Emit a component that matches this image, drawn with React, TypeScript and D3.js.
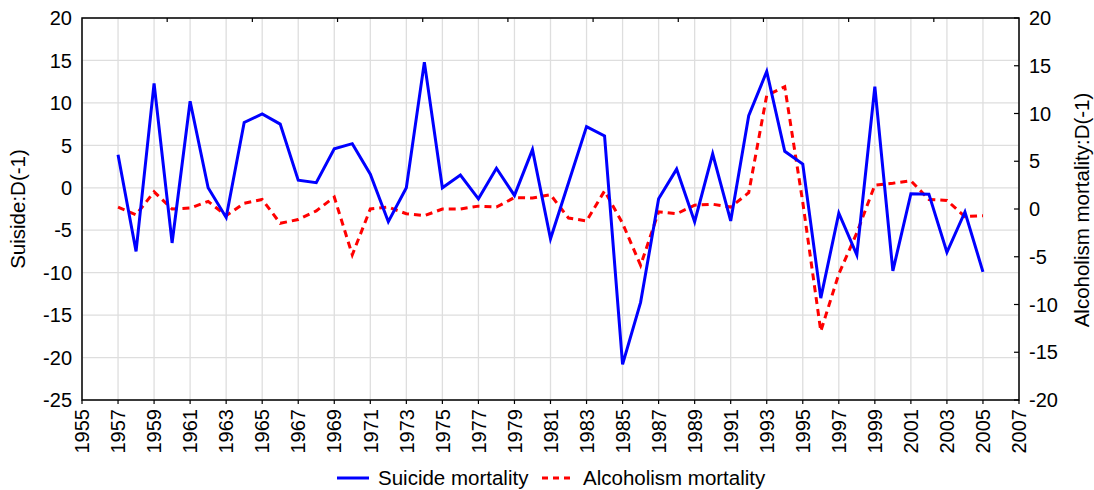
import React from 'react';
import * as d3 from 'd3';

const years = d3.range(1957, 2006);
const suicide = [
  3.9, -7.5, 12.3, -6.5, 10.2, 0.0, -3.5, 7.7, 8.7, 7.5,
  0.9, 0.6, 4.6, 5.2, 1.6, -4.0, 0.0, 14.8, 0.0, 1.5,
  -1.3, 2.3, -0.9, 4.5, -6.0, 0.6, 7.2, 6.1, -20.8, -13.5,
  -1.3, 2.2, -4.0, 4.0, -3.9, 8.5, 13.7, 4.3, 2.8, -13.0,
  -3.0, -7.9, 11.9, -9.8, -0.7, -0.75, -7.6, -2.85, -9.9,
];
const alcohol = [
  0.2, -0.6, 1.8, 0.0, 0.1, 0.8, -0.7, 0.6, 1.0, -1.5,
  -1.1, -0.2, 1.25, -4.8, 0.0, 0.2, -0.5, -0.7, 0.0, 0.0,
  0.3, 0.2, 1.2, 1.15, 1.5, -0.95, -1.25, 1.9, -1.5, -5.9,
  -0.3, -0.5, 0.4, 0.5, 0.2, 1.7, 11.9, 12.8, 0.7, -12.8,
  -6.8, -2.5, 2.5, 2.7, 2.95, 1.0, 0.9, -0.8, -0.7,
];
const xTicks = d3.range(1955, 2008, 2);
const leftTicks = d3.range(-25, 21, 5);
const rightTicks = d3.range(-20, 21, 5);
const topTicks = d3.range(1, 11);

const W = 1094;
const H = 490;
const font = 'Arial, "Liberation Sans", sans-serif';

export default function App() {
  const x = d3.scaleLinear().domain([1955, 2007]).range([82, 1019]);
  const yL = d3.scaleLinear().domain([-25, 20]).range([400, 18]);
  const yR = d3.scaleLinear().domain([-20, 20]).range([400, 18]);
  const xTop = d3.scaleLinear().domain([0, 11]).range([82, 1019]);

  const lineS = d3.line<number>().x((d, i) => x(years[i])).y(d => yL(d));
  const lineA = d3.line<number>().x((d, i) => x(years[i])).y(d => yR(d));

  return (
    <svg width={W} height={H} style={{ position: 'absolute', left: 0, top: 0, background: '#fff' }}
      fontFamily={font}>
      {/* grid */}
      <g stroke="#dedede" strokeWidth={1.3}>
        {xTicks.map(t => (
          <line key={'gx' + t} x1={x(t)} x2={x(t)} y1={18} y2={400} />
        ))}
        {leftTicks.map(t => (
          <line key={'gy' + t} x1={82} x2={1019} y1={yL(t)} y2={yL(t)} />
        ))}
      </g>

      {/* series */}
      <path d={lineA(alcohol) || ''} fill="none" stroke="#ff0000" strokeWidth={3}
        strokeDasharray="7,5" />
      <path d={lineS(suicide) || ''} fill="none" stroke="#0000ff" strokeWidth={3}
        strokeLinejoin="miter" />

      {/* frame */}
      <rect x={82} y={18} width={937} height={382} fill="none" stroke="#000" strokeWidth={1.5} />

      {/* ticks */}
      <g stroke="#000" strokeWidth={1.2}>
        {topTicks.map(t => (
          <line key={'tt' + t} x1={xTop(t)} x2={xTop(t)} y1={18} y2={22} />
        ))}
        {xTicks.map(t => (
          <line key={'bt' + t} x1={x(t)} x2={x(t)} y1={400} y2={404} />
        ))}
        {rightTicks.map(t => (
          <line key={'rt' + t} x1={1014} x2={1019} y1={yR(t)} y2={yR(t)} />
        ))}
      </g>

      {/* left tick labels */}
      <g fontSize={20} fill="#000" textAnchor="end">
        {leftTicks.map(t => (
          <text key={'ll' + t} x={72} y={yL(t)} dy="0.36em">{t}</text>
        ))}
      </g>
      {/* right tick labels */}
      <g fontSize={20} fill="#000" textAnchor="start">
        {rightTicks.map(t => (
          <text key={'rl' + t} x={1029} y={yR(t)} dy="0.36em">{t}</text>
        ))}
      </g>
      {/* bottom tick labels */}
      <g fontSize={20} fill="#000" textAnchor="end">
        {xTicks.map(t => (
          <text key={'xl' + t} transform={`translate(${x(t)},409) rotate(-90)`} dy="0.36em">{t}</text>
        ))}
      </g>

      {/* axis titles */}
      <text transform="translate(18,209) rotate(-90)" textAnchor="middle" dy="0.36em" fontSize={20.5}>
        Suiside:D(-1)
      </text>
      <text transform="translate(1082,210) rotate(-90)" textAnchor="middle" dy="0.36em" fontSize={20.5}>
        Alcoholism mortality:D(-1)
      </text>

      {/* legend */}
      <line x1={337} x2={369} y1={478} y2={478} stroke="#0000ff" strokeWidth={3} />
      <text x={378} y={478} dy="0.36em" fontSize={20.5}>Suicide mortality</text>
      <line x1={542} x2={571} y1={478} y2={478} stroke="#ff0000" strokeWidth={3} strokeDasharray="6,5" />
      <text x={583} y={478} dy="0.36em" fontSize={20.5}>Alcoholism mortality</text>
    </svg>
  );
}
